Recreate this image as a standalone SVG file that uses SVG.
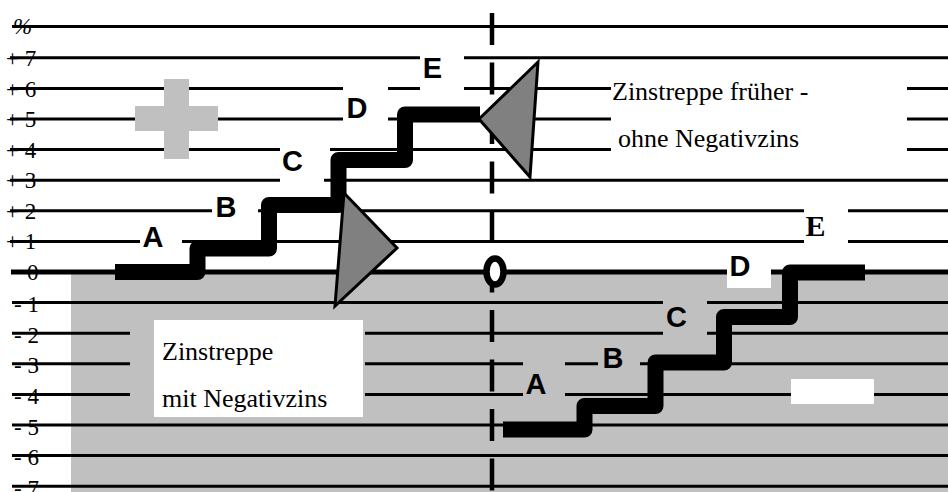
<svg xmlns="http://www.w3.org/2000/svg" width="948" height="492" viewBox="0 0 948 492">
<style>
.ln{stroke:#000;stroke-width:3;fill:none}
.zero{stroke:#000;stroke-width:5;fill:none}
.ax{font-family:"Liberation Serif","Times New Roman",serif;font-size:23px;fill:#000}
.cap{font-family:"Liberation Serif","Times New Roman",serif;font-size:26px;fill:#000}
.lt{font-family:"Liberation Sans",Arial,sans-serif;font-weight:bold;font-size:29px;fill:#000;text-anchor:middle}
.ltE{font-family:"Liberation Serif","Times New Roman",serif;font-weight:bold;font-size:30px;fill:#000;text-anchor:middle}
.stair{stroke:#000;stroke-width:16;fill:none;stroke-linejoin:round;stroke-linecap:butt}
.tri{fill:#808080;stroke:#000;stroke-width:3;stroke-linejoin:miter}
.wb{fill:#fff}
.gb{fill:#c0c0c0}
</style>
<rect x="0" y="0" width="948" height="492" fill="#fff"/>
<rect id="negative-area" x="71" y="274" width="877" height="218" fill="#c0c0c0"/>
<g id="grid">
<line class="ln" x1="12" y1="26.5" x2="948" y2="26.5"/>
<line class="ln" x1="10" y1="57.8" x2="948" y2="57.8"/>
<line class="ln" x1="10" y1="88.4" x2="948" y2="88.4"/>
<line class="ln" x1="10" y1="119" x2="948" y2="119"/>
<line class="ln" x1="10" y1="149.6" x2="948" y2="149.6"/>
<line class="ln" x1="10" y1="180.2" x2="948" y2="180.2"/>
<line class="ln" x1="10" y1="210.8" x2="948" y2="210.8"/>
<line class="ln" x1="10" y1="241.4" x2="948" y2="241.4"/>
<line class="zero" x1="11" y1="272" x2="948" y2="272"/>
<line class="ln" x1="12" y1="302.6" x2="948" y2="302.6"/>
<line class="ln" x1="12" y1="333.2" x2="948" y2="333.2"/>
<line class="ln" x1="12" y1="363.8" x2="948" y2="363.8"/>
<line class="ln" x1="12" y1="394.4" x2="948" y2="394.4"/>
<line class="ln" x1="12" y1="425" x2="948" y2="425"/>
<line class="ln" x1="12" y1="455.6" x2="948" y2="455.6"/>
<line class="ln" x1="12" y1="486.2" x2="948" y2="486.2"/>
</g>
<g id="label-boxes">
<rect class="wb" x="140" y="225" width="42" height="25"/>
<rect class="wb" x="212" y="195" width="46" height="25"/>
<rect class="wb" x="280" y="140" width="50" height="20"/>
<rect class="wb" x="280" y="170" width="44" height="18"/>
<rect class="wb" x="343" y="80" width="45" height="45"/>
<rect class="wb" x="420" y="50" width="44" height="45"/>
<rect class="wb" x="611" y="70" width="296" height="95"/>
<rect class="wb" x="804" y="200" width="44" height="50"/>
<rect class="wb" x="727" y="250" width="44" height="38"/>
<rect class="gb" x="130" y="318" width="235" height="102"/>
<rect class="wb" x="154" y="320" width="209" height="97"/>
<rect class="gb" x="523" y="355" width="42" height="45"/>
<rect class="gb" x="598" y="355" width="42" height="17"/>
<rect class="gb" x="663" y="295" width="44" height="45"/>
</g>
<g id="plus-sign">
<rect x="164" y="79" width="25" height="80" fill="#c0c0c0"/>
<rect x="135" y="106" width="83" height="25" fill="#c0c0c0"/>
</g>
<rect id="minus-sign" x="791" y="379" width="83" height="25" fill="#fff"/>
<g id="axis-labels">
<text class="ax" x="13" y="34" font-style="italic">%</text>
<text class="ax" x="6" y="65.5">+ 7</text>
<text class="ax" x="6" y="96.5">+ 6</text>
<text class="ax" x="6" y="127">+ 5</text>
<text class="ax" x="6" y="157.5">+ 4</text>
<text class="ax" x="6" y="188">+ 3</text>
<text class="ax" x="6" y="218.5">+ 2</text>
<text class="ax" x="6" y="249">+ 1</text>
<text class="ax" x="27" y="280">0</text>
<text class="ax" x="14" y="312">- 1</text>
<text class="ax" x="14" y="343">- 2</text>
<text class="ax" x="14" y="373">- 3</text>
<text class="ax" x="14" y="403.5">- 4</text>
<text class="ax" x="14" y="434.5">- 5</text>
<text class="ax" x="14" y="465">- 6</text>
<text class="ax" x="14" y="495.5">- 7</text>
</g>
<g id="divider">
<line x1="492" y1="13" x2="492" y2="492" stroke="#000" stroke-width="4.5" stroke-dasharray="32 17.5"/>
<ellipse cx="495" cy="271.5" rx="8.5" ry="13" fill="#fff" stroke="#000" stroke-width="6.5"/>
</g>
<g id="connectors">
<path id="stair-old" class="stair" d="M115,272 H197.5 V248.5 H269 V205 H338.5 V160 H405 V114.5 H480"/>
<path id="stair-new" class="stair" d="M503,429.5 H584.5 V406 H655.5 V362.5 H724 V317 H790 V272.5 H865"/>
<polygon id="arrow-down" class="tri" points="344,193 397,248 335,306"/>
<polygon id="arrow-up" class="tri" points="538,62 479,119 530,177"/>
</g>
<g id="step-labels-old">
<text class="lt" x="153" y="247">A</text>
<text class="lt" x="226" y="217">B</text>
<text class="lt" x="292.5" y="171">C</text>
<text class="lt" x="357" y="118">D</text>
<text class="lt" x="432.5" y="78">E</text>
</g>
<g id="step-labels-new">
<text class="lt" x="536" y="394">A</text>
<text class="lt" x="613" y="368">B</text>
<text class="lt" x="676.5" y="327">C</text>
<text class="lt" x="740" y="276">D</text>
<text class="ltE" x="815.5" y="236">E</text>
</g>
<g id="caption-old">
<text class="cap" x="612" y="100">Zinstreppe früher -</text>
<text class="cap" x="618" y="147">ohne Negativzins</text>
</g>
<g id="caption-new">
<text class="cap" x="162" y="360">Zinstreppe</text>
<text class="cap" x="162" y="407">mit Negativzins</text>
</g>
</svg>
